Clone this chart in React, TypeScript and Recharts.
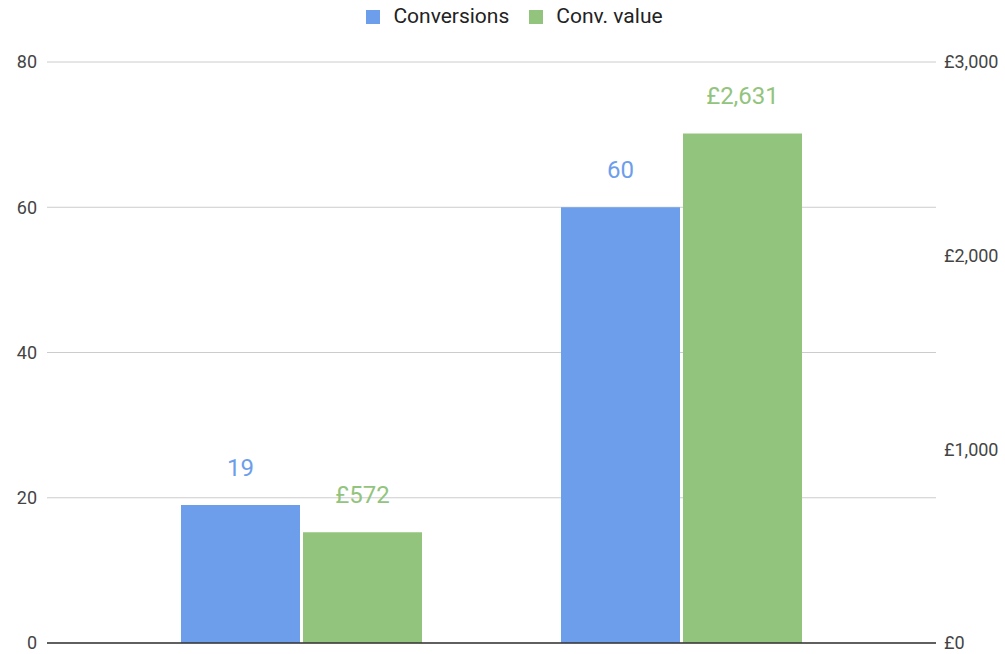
import { Bar, BarChart, CartesianGrid, LabelList, Legend, XAxis, YAxis } from 'recharts';

const categories = ['Previous period', 'Current period'];
const conversions = [19, 60];
const convValue = [572, 2631];
const leftTicks = [0, 20, 40, 60, 80];
const rightTicks = [0, 1000, 2000, 3000];

const BLUE = '#6d9eeb';
const GREEN = '#93c47d';

const data = categories.map((name, i) => ({
  name,
  conversions: conversions[i],
  value: convValue[i],
}));

const pounds = (v: number) => `£${v.toLocaleString('en-GB')}`;

export default function App() {
  return (
    <div style={{ position: 'fixed', left: 0, top: 0, width: 1005, height: 654, background: '#fff', fontFamily: 'Roboto, Arial, sans-serif' }}>
      <BarChart
        width={1005}
        height={654}
        data={data}
        margin={{ top: 30, right: 0, bottom: 10, left: 0 }}
        barGap={3}
        barSize={119}
      >
        <CartesianGrid vertical={false} stroke="#cccccc" yAxisId="left" />
        <Legend
          verticalAlign="top"
          align="center"
          iconType="square"
          iconSize={14}
          height={32}
          itemSorter="dataKey"
          wrapperStyle={{ top: 4, left: 22, fontSize: 21 }}
          formatter={(v) => <span style={{ color: '#222', marginLeft: 9, marginRight: 10 }}>{v}</span>}
        />
        <XAxis
          dataKey="name"
          tick={false}
          tickLine={false}
          height={1}
          axisLine={{ stroke: '#333', strokeWidth: 1.5 }}
          padding={{ left: 64, right: 65 }}
        />
        <YAxis
          yAxisId="left"
          domain={[0, 80]}
          ticks={leftTicks}
          width={47}
          tickLine={false}
          axisLine={false}
          tickSize={0}
          tickMargin={10}
          tick={{ fill: '#444', fontSize: 18 }}
        />
        <YAxis
          yAxisId="right"
          orientation="right"
          domain={[0, 3000]}
          ticks={rightTicks}
          width={69}
          tickLine={false}
          axisLine={false}
          tickSize={0}
          tickMargin={8}
          tickFormatter={pounds}
          tick={{ fill: '#444', fontSize: 18, textAnchor: 'start' }}
        />
        <Bar dataKey="conversions" name="Conversions" yAxisId="left" fill={BLUE} isAnimationActive={false}>
          <LabelList dataKey="conversions" position="top" offset={29} fill={BLUE} fontSize={24} />
        </Bar>
        <Bar dataKey="value" name="Conv. value" yAxisId="right" fill={GREEN} isAnimationActive={false}>
          <LabelList dataKey="value" position="top" offset={29} fill={GREEN} fontSize={24} formatter={(v: any) => pounds(Number(v))} />
        </Bar>
      </BarChart>
    </div>
  );
}
